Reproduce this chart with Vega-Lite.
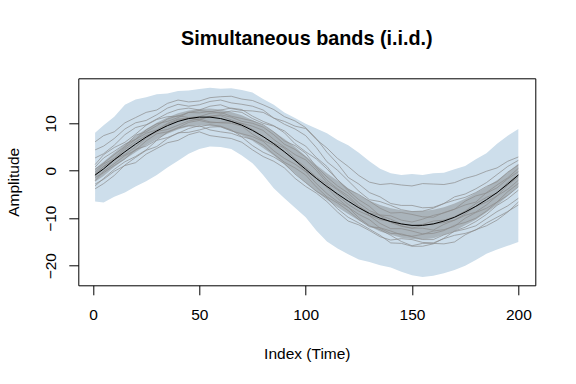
{
  "$schema": "https://vega.github.io/schema/vega-lite/v6.json",
  "width": 457,
  "height": 207,
  "autosize": {"type": "none"},
  "padding": {"left": 78.3, "top": 78.3, "right": 40.7, "bottom": 98.7},
  "background": "white",
  "config": {
    "view": {"stroke": "#000000", "strokeWidth": 1},
    "font": "Liberation Sans",
    "axis": {
      "grid": false,
      "domain": false,
      "tickColor": "#000000",
      "tickSize": 9.5,
      "labelFont": "Liberation Sans",
      "labelFontSize": 15.5,
      "labelColor": "#000000",
      "titleFont": "Liberation Sans",
      "titleFontSize": 15.5,
      "titleFontWeight": "normal",
      "titleColor": "#000000"
    }
  },
  "title": {
    "text": "Simultaneous bands (i.i.d.)",
    "font": "Liberation Sans",
    "fontSize": 19.8,
    "fontWeight": "bold",
    "anchor": "middle",
    "frame": "group",
    "offset": 14,
    "baseline": "alphabetic",
    "color": "#000000"
  },
  "datasets": {
    "band": [
      {"x": 1, "lo": -6.5, "hi": 8.0, "il": -2.3, "ih": 0.5, "m": -0.9},
      {"x": 5, "lo": -6.7, "hi": 9.6, "il": -1.1, "ih": 1.9, "m": 0.4},
      {"x": 10, "lo": -5.5, "hi": 11.4, "il": 0.8, "ih": 3.8, "m": 2.3},
      {"x": 15, "lo": -4.6, "hi": 13.9, "il": 2.4, "ih": 5.6, "m": 4.0},
      {"x": 20, "lo": -3.3, "hi": 15.0, "il": 3.9, "ih": 7.3, "m": 5.6},
      {"x": 25, "lo": -2.2, "hi": 15.5, "il": 5.4, "ih": 8.8, "m": 7.1},
      {"x": 30, "lo": -0.9, "hi": 16.1, "il": 6.7, "ih": 10.1, "m": 8.4},
      {"x": 35, "lo": 0.7, "hi": 16.3, "il": 7.8, "ih": 11.2, "m": 9.5},
      {"x": 40, "lo": 2.1, "hi": 16.8, "il": 8.7, "ih": 12.1, "m": 10.4},
      {"x": 45, "lo": 3.6, "hi": 16.9, "il": 9.3, "ih": 12.7, "m": 11.0},
      {"x": 50, "lo": 4.6, "hi": 17.2, "il": 9.6, "ih": 13.0, "m": 11.3},
      {"x": 55, "lo": 5.1, "hi": 17.5, "il": 9.5, "ih": 13.1, "m": 11.3},
      {"x": 60, "lo": 5.0, "hi": 17.3, "il": 9.1, "ih": 12.9, "m": 11.0},
      {"x": 65, "lo": 4.6, "hi": 17.4, "il": 8.4, "ih": 12.4, "m": 10.4},
      {"x": 70, "lo": 3.2, "hi": 17.0, "il": 7.5, "ih": 11.7, "m": 9.6},
      {"x": 75, "lo": 1.6, "hi": 16.5, "il": 6.3, "ih": 10.7, "m": 8.5},
      {"x": 80, "lo": -0.9, "hi": 15.1, "il": 4.8, "ih": 9.6, "m": 7.2},
      {"x": 85, "lo": -3.7, "hi": 13.9, "il": 3.2, "ih": 8.2, "m": 5.7},
      {"x": 90, "lo": -5.8, "hi": 12.3, "il": 1.3, "ih": 6.7, "m": 4.0},
      {"x": 95, "lo": -7.8, "hi": 11.1, "il": -0.6, "ih": 5.0, "m": 2.2},
      {"x": 100, "lo": -9.8, "hi": 9.9, "il": -2.5, "ih": 3.1, "m": 0.3},
      {"x": 105, "lo": -12.6, "hi": 8.9, "il": -4.4, "ih": 1.2, "m": -1.6},
      {"x": 110, "lo": -14.9, "hi": 7.9, "il": -6.1, "ih": -0.5, "m": -3.3},
      {"x": 115, "lo": -16.4, "hi": 6.5, "il": -7.7, "ih": -2.1, "m": -4.9},
      {"x": 120, "lo": -17.6, "hi": 5.4, "il": -9.1, "ih": -3.7, "m": -6.4},
      {"x": 125, "lo": -18.7, "hi": 3.8, "il": -10.5, "ih": -5.1, "m": -7.8},
      {"x": 130, "lo": -19.2, "hi": 2.0, "il": -11.7, "ih": -6.3, "m": -9.0},
      {"x": 135, "lo": -19.9, "hi": 0.4, "il": -12.8, "ih": -7.2, "m": -10.0},
      {"x": 140, "lo": -20.4, "hi": -0.5, "il": -13.5, "ih": -7.9, "m": -10.7},
      {"x": 145, "lo": -21.3, "hi": -0.9, "il": -14.1, "ih": -8.3, "m": -11.2},
      {"x": 150, "lo": -22.0, "hi": -0.7, "il": -14.4, "ih": -8.6, "m": -11.5},
      {"x": 155, "lo": -22.4, "hi": -0.9, "il": -14.5, "ih": -8.5, "m": -11.5},
      {"x": 160, "lo": -22.1, "hi": -0.5, "il": -14.2, "ih": -8.2, "m": -11.2},
      {"x": 165, "lo": -21.6, "hi": -0.4, "il": -13.5, "ih": -7.7, "m": -10.6},
      {"x": 170, "lo": -20.9, "hi": 0.3, "il": -12.7, "ih": -6.9, "m": -9.8},
      {"x": 175, "lo": -20.0, "hi": 1.0, "il": -11.5, "ih": -5.9, "m": -8.7},
      {"x": 180, "lo": -18.8, "hi": 2.4, "il": -10.3, "ih": -4.7, "m": -7.5},
      {"x": 185, "lo": -17.5, "hi": 3.7, "il": -8.8, "ih": -3.4, "m": -6.1},
      {"x": 190, "lo": -16.6, "hi": 5.7, "il": -7.2, "ih": -2.0, "m": -4.6},
      {"x": 195, "lo": -15.8, "hi": 7.4, "il": -5.3, "ih": -0.3, "m": -2.8},
      {"x": 200, "lo": -15.0, "hi": 8.8, "il": -3.3, "ih": 1.5, "m": -0.9}
    ],
    "lines": [
      {"x": 1, "A": 2.7, "B": 6.1, "C": 1.3, "D": 4.4, "E": -0.3, "F": 0.8, "G": -2.1, "H": 0.3, "I": -3.8, "J": -0.7, "K": -1.0, "L": -3.2, "M": -1.4, "N": -2.8},
      {"x": 5, "A": 3.6, "B": 7.4, "C": 3.4, "D": 5.2, "E": 1.4, "F": 2.7, "G": -0.1, "H": 1.6, "I": -2.7, "J": 0.9, "K": 0.9, "L": -1.6, "M": -0.4, "N": -1.8},
      {"x": 10, "A": 5.4, "B": 8.2, "C": 4.9, "D": 6.8, "E": 2.6, "F": 4.1, "G": 1.5, "H": 3.4, "I": -1.0, "J": 2.2, "K": 2.4, "L": 0.3, "M": 1.1, "N": -0.1},
      {"x": 15, "A": 7.6, "B": 10.1, "C": 6.0, "D": 8.8, "E": 4.9, "F": 5.6, "G": 3.2, "H": 5.1, "I": 1.2, "J": 4.5, "K": 3.4, "L": 1.9, "M": 2.5, "N": 1.1},
      {"x": 20, "A": 9.1, "B": 11.2, "C": 7.7, "D": 10.1, "E": 6.6, "F": 6.6, "G": 4.3, "H": 7.5, "I": 2.8, "J": 6.1, "K": 5.0, "L": 3.0, "M": 4.5, "N": 1.7},
      {"x": 25, "A": 9.7, "B": 12.3, "C": 9.6, "D": 10.6, "E": 7.9, "F": 8.6, "G": 6.3, "H": 8.2, "I": 4.3, "J": 7.4, "K": 6.9, "L": 4.4, "M": 5.2, "N": 3.5},
      {"x": 30, "A": 10.9, "B": 12.8, "C": 10.8, "D": 11.8, "E": 8.6, "F": 9.9, "G": 7.8, "H": 9.5, "I": 5.1, "J": 8.2, "K": 8.3, "L": 6.4, "M": 6.5, "N": 4.7},
      {"x": 35, "A": 12.1, "B": 14.2, "C": 11.4, "D": 13.2, "E": 10.0, "F": 10.4, "G": 8.2, "H": 10.9, "I": 6.8, "J": 9.8, "K": 8.7, "L": 7.0, "M": 8.1, "N": 5.9},
      {"x": 40, "A": 12.9, "B": 14.9, "C": 11.5, "D": 14.0, "E": 10.9, "F": 11.2, "G": 9.1, "H": 11.6, "I": 8.0, "J": 10.7, "K": 9.6, "L": 7.9, "M": 9.0, "N": 6.4},
      {"x": 45, "A": 13.2, "B": 14.5, "C": 12.3, "D": 13.6, "E": 11.1, "F": 12.3, "G": 10.2, "H": 11.2, "I": 8.1, "J": 11.0, "K": 10.5, "L": 8.9, "M": 9.5, "N": 7.6},
      {"x": 50, "A": 12.8, "B": 14.7, "C": 12.2, "D": 13.9, "E": 10.7, "F": 12.7, "G": 10.6, "H": 11.4, "I": 8.6, "J": 10.9, "K": 10.9, "L": 9.5, "M": 9.3, "N": 8.2},
      {"x": 55, "A": 13.6, "B": 15.4, "C": 12.5, "D": 14.6, "E": 11.5, "F": 12.4, "G": 10.1, "H": 12.1, "I": 9.2, "J": 11.4, "K": 10.3, "L": 8.6, "M": 9.7, "N": 7.4},
      {"x": 60, "A": 13.9, "B": 15.6, "C": 12.1, "D": 14.9, "E": 11.8, "F": 12.8, "G": 10.2, "H": 12.3, "I": 9.3, "J": 11.6, "K": 10.1, "L": 8.2, "M": 9.4, "N": 7.1},
      {"x": 65, "A": 13.1, "B": 15.7, "C": 12.6, "D": 14.3, "E": 11.3, "F": 13.2, "G": 10.3, "H": 11.5, "I": 8.4, "J": 10.7, "K": 10.0, "L": 7.9, "M": 8.6, "N": 6.8},
      {"x": 70, "A": 12.7, "B": 15.1, "C": 12.3, "D": 14.0, "E": 10.4, "F": 12.9, "G": 9.9, "H": 11.0, "I": 7.8, "J": 10.0, "K": 9.4, "L": 7.1, "M": 7.2, "N": 6.0},
      {"x": 75, "A": 12.6, "B": 14.8, "C": 11.0, "D": 13.6, "E": 10.0, "F": 11.5, "G": 8.7, "H": 10.5, "I": 7.2, "J": 9.4, "K": 7.7, "L": 5.3, "M": 6.6, "N": 4.4},
      {"x": 80, "A": 12.3, "B": 13.9, "C": 10.0, "D": 12.8, "E": 9.2, "F": 10.4, "G": 7.2, "H": 9.7, "I": 6.2, "J": 8.5, "K": 6.4, "L": 3.9, "M": 5.4, "N": 3.0},
      {"x": 85, "A": 11.1, "B": 12.9, "C": 9.4, "D": 11.1, "E": 7.6, "F": 9.5, "G": 5.8, "H": 8.2, "I": 4.2, "J": 6.6, "K": 5.4, "L": 2.9, "M": 3.5, "N": 2.0},
      {"x": 90, "A": 10.4, "B": 11.4, "C": 8.4, "D": 9.8, "E": 5.6, "F": 8.0, "G": 4.8, "H": 6.3, "I": 2.6, "J": 5.0, "K": 4.0, "L": 1.5, "M": 1.8, "N": 0.6},
      {"x": 95, "A": 9.4, "B": 10.5, "C": 6.5, "D": 8.8, "E": 4.5, "F": 5.7, "G": 2.5, "H": 5.3, "I": 1.4, "J": 3.4, "K": 2.1, "L": -0.7, "M": 0.6, "N": -1.6},
      {"x": 100, "A": 8.9, "B": 9.1, "C": 5.2, "D": 7.4, "E": 2.9, "F": 4.0, "G": 0.7, "H": 3.7, "I": -0.2, "J": 2.3, "K": -0.1, "L": -2.5, "M": -0.9, "N": -3.3},
      {"x": 105, "A": 6.6, "B": 6.8, "C": 2.8, "D": 4.9, "E": 0.6, "F": 2.5, "G": -1.3, "H": 0.9, "I": -2.7, "J": 0.1, "K": -1.5, "L": -4.3, "M": -3.4, "N": -4.7},
      {"x": 110, "A": 4.8, "B": 3.9, "C": 0.9, "D": 1.9, "E": -2.0, "F": 0.4, "G": -2.8, "H": -1.3, "I": -4.8, "J": -2.5, "K": -3.5, "L": -5.7, "M": -5.5, "N": -6.5},
      {"x": 115, "A": 2.6, "B": 1.5, "C": -1.9, "D": 0.1, "E": -3.8, "F": -1.9, "G": -5.2, "H": -3.2, "I": -6.5, "J": -4.0, "K": -5.8, "L": -8.0, "M": -6.8, "N": -8.7},
      {"x": 120, "A": 0.9, "B": -1.4, "C": -4.2, "D": -2.1, "E": -5.3, "F": -3.9, "G": -7.1, "H": -4.7, "I": -7.7, "J": -5.8, "K": -7.7, "L": -9.8, "M": -8.4, "N": -10.6},
      {"x": 125, "A": -1.0, "B": -2.8, "C": -6.1, "D": -4.3, "E": -7.4, "F": -5.0, "G": -8.5, "H": -6.8, "I": -9.9, "J": -7.5, "K": -9.2, "L": -11.0, "M": -10.3, "N": -11.4},
      {"x": 130, "A": -2.4, "B": -4.6, "C": -7.5, "D": -6.1, "E": -8.9, "F": -6.4, "G": -9.5, "H": -8.4, "I": -11.6, "J": -9.4, "K": -10.3, "L": -12.3, "M": -11.8, "N": -12.6},
      {"x": 135, "A": -2.9, "B": -5.5, "C": -9.5, "D": -6.5, "E": -9.4, "F": -7.9, "G": -11.1, "H": -9.3, "I": -12.4, "J": -10.3, "K": -12.1, "L": -13.6, "M": -12.0, "N": -13.9},
      {"x": 140, "A": -2.7, "B": -6.9, "C": -10.9, "D": -7.3, "E": -10.2, "F": -8.9, "G": -12.2, "H": -9.5, "I": -13.6, "J": -10.7, "K": -13.2, "L": -15.2, "M": -12.7, "N": -14.6},
      {"x": 145, "A": -3.0, "B": -7.3, "C": -11.7, "D": -8.2, "E": -11.2, "F": -8.8, "G": -12.2, "H": -10.4, "I": -14.9, "J": -11.6, "K": -13.3, "L": -15.3, "M": -13.5, "N": -14.3},
      {"x": 150, "A": -3.2, "B": -7.3, "C": -12.1, "D": -8.6, "E": -11.6, "F": -9.2, "G": -12.7, "H": -10.8, "I": -15.8, "J": -12.1, "K": -13.9, "L": -15.9, "M": -13.8, "N": -14.5},
      {"x": 155, "A": -2.7, "B": -7.8, "C": -12.1, "D": -8.5, "E": -11.3, "F": -9.7, "G": -13.3, "H": -10.2, "I": -15.3, "J": -11.5, "K": -14.5, "L": -15.9, "M": -13.4, "N": -15.1},
      {"x": 160, "A": -2.8, "B": -7.7, "C": -12.5, "D": -7.9, "E": -10.6, "F": -9.8, "G": -13.2, "H": -9.4, "I": -15.3, "J": -11.2, "K": -14.5, "L": -15.4, "M": -12.7, "N": -15.2},
      {"x": 165, "A": -2.9, "B": -6.9, "C": -11.3, "D": -6.9, "E": -10.4, "F": -8.8, "G": -12.6, "H": -8.9, "I": -15.4, "J": -10.9, "K": -13.5, "L": -14.2, "M": -12.4, "N": -14.3},
      {"x": 170, "A": -2.5, "B": -6.2, "C": -10.4, "D": -5.5, "E": -9.7, "F": -8.1, "G": -11.5, "H": -8.1, "I": -15.0, "J": -10.4, "K": -12.8, "L": -12.7, "M": -11.7, "N": -13.6},
      {"x": 175, "A": -1.6, "B": -5.6, "C": -9.4, "D": -4.9, "E": -8.5, "F": -7.2, "G": -10.9, "H": -6.4, "I": -13.5, "J": -9.1, "K": -12.3, "L": -11.9, "M": -10.0, "N": -13.2},
      {"x": 180, "A": -1.0, "B": -4.6, "C": -8.7, "D": -3.8, "E": -6.9, "F": -6.6, "G": -10.0, "H": -5.3, "I": -12.4, "J": -7.5, "K": -11.6, "L": -10.7, "M": -8.8, "N": -12.5},
      {"x": 185, "A": -0.1, "B": -3.3, "C": -7.2, "D": -2.5, "E": -5.6, "F": -4.6, "G": -8.5, "H": -4.7, "I": -11.6, "J": -6.6, "K": -10.1, "L": -9.2, "M": -7.9, "N": -11.0},
      {"x": 190, "A": 0.6, "B": -2.3, "C": -5.3, "D": -0.8, "E": -4.7, "F": -3.0, "G": -6.6, "H": -3.6, "I": -10.4, "J": -5.3, "K": -8.6, "L": -7.3, "M": -6.6, "N": -9.8},
      {"x": 195, "A": 2.0, "B": -0.3, "C": -3.9, "D": 0.9, "E": -2.5, "F": -1.5, "G": -5.2, "H": -1.7, "I": -8.7, "J": -3.0, "K": -7.4, "L": -5.9, "M": -4.4, "N": -8.6},
      {"x": 200, "A": 2.9, "B": 1.2, "C": -2.0, "D": 2.2, "E": -0.9, "F": 0.5, "G": -3.4, "H": -0.2, "I": -6.6, "J": -1.3, "K": -5.8, "L": -4.1, "M": -2.7, "N": -7.2}
    ]
  },
  "layer": [
    {
      "data": {"name": "band"},
      "mark": {"type": "area", "color": "#cddeeb", "opacity": 1},
      "encoding": {
        "x": {
          "field": "x", "type": "quantitative",
          "scale": {"domain": [-6.91, 207.98], "nice": false, "zero": false},
          "axis": {"title": "Index (Time)", "values": [0, 50, 100, 150, 200], "labelAngle": 0, "labelPadding": 13, "titlePadding": 23}
        },
        "y": {
          "field": "lo", "type": "quantitative",
          "scale": {"domain": [-24.13, 19.48], "nice": false, "zero": false},
          "axis": {"title": "Amplitude", "values": [-20, -10, 0, 10], "labelAngle": -90, "labelAlign": "center", "labelBaseline": "alphabetic", "labelPadding": 13, "titlePadding": 22}
        },
        "y2": {"field": "hi"}
      }
    },
    {
      "data": {"name": "band"},
      "mark": {"type": "area", "color": "#808080", "opacity": 0.45},
      "encoding": {
        "x": {"field": "x", "type": "quantitative", "title": "Index (Time)"},
        "y": {"field": "il", "type": "quantitative", "title": "Amplitude"},
        "y2": {"field": "ih"}
      }
    },
    {
      "data": {"name": "lines"},
      "transform": [{"fold": ["A", "B", "C", "D", "E", "F", "G", "H", "I", "J", "K", "L", "M", "N"], "as": ["s", "v"]}],
      "mark": {"type": "line", "color": "#8c8c8c", "strokeWidth": 1, "opacity": 0.7},
      "encoding": {
        "x": {"field": "x", "type": "quantitative", "title": "Index (Time)"},
        "y": {"field": "v", "type": "quantitative", "title": "Amplitude"},
        "detail": {"field": "s"}
      }
    },
    {
      "data": {"name": "band"},
      "mark": {"type": "line", "color": "#000000", "strokeWidth": 1},
      "encoding": {
        "x": {"field": "x", "type": "quantitative", "title": "Index (Time)"},
        "y": {"field": "m", "type": "quantitative", "title": "Amplitude"}
      }
    }
  ]
}
